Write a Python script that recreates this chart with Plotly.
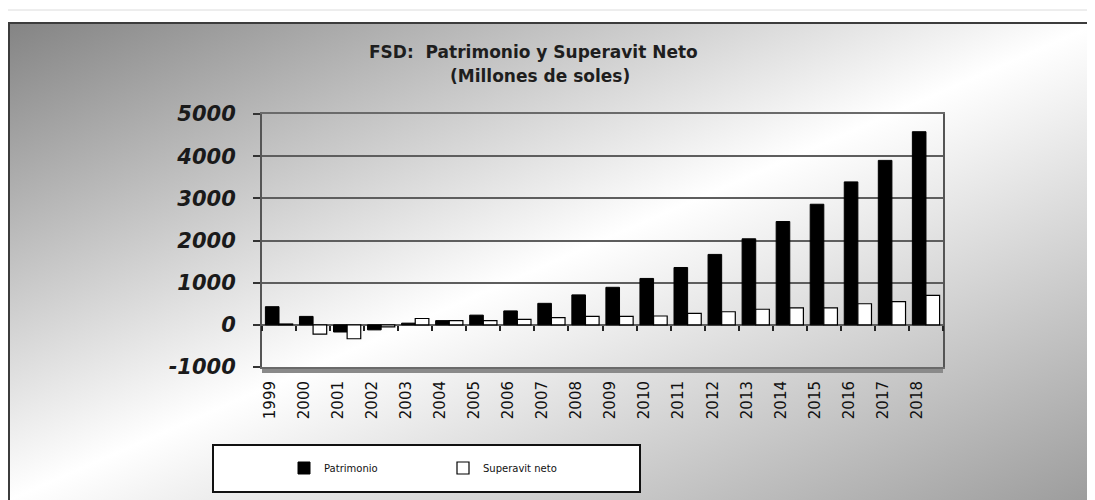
import base64
import plotly.graph_objects as go

# ---- data (millones de soles) ----
years = ["1999", "2000", "2001", "2002", "2003", "2004", "2005", "2006", "2007", "2008",
         "2009", "2010", "2011", "2012", "2013", "2014", "2015", "2016", "2017", "2018"]
patrimonio = [430, 200, -170, -120, 40, 100, 230, 330, 510, 710,
              890, 1100, 1360, 1670, 2040, 2450, 2860, 3390, 3900, 4580]
superavit = [20, -220, -330, -50, 150, 100, 100, 130, 170, 200,
             200, 210, 270, 310, 370, 400, 400, 500, 550, 700]
y_ticks = [-1000, 0, 1000, 2000, 3000, 4000, 5000]

title_line1 = "FSD:\u00a0\u00a0Patrimonio y Superavit Neto"
title_line2 = "(Millones de soles)"
name_pat = "Patrimonio"
name_sup = "Superavit neto"

# ---- geometry helpers (screen pixels -> paper); page body has an 8px margin ----
OFF = 8
W, H = 1095 - OFF, 500 - OFF
ML, MR, MT, MB = 262 - OFF, 152, 114 - OFF, 133
PW = W - ML - MR
PH = H - MT - MB


def sx(x):
    return (x - OFF - ML) / PW


def sy(y):
    return (H - MB - (y - OFF)) / PH


svg = (
    "<svg xmlns='http://www.w3.org/2000/svg' width='1090' height='477' viewBox='0 0 1090 477' "
    "preserveAspectRatio='none'><defs><linearGradient id='g' x1='0' y1='0' x2='1' y2='1'>"
    "<stop offset='0' stop-color='#848484'/><stop offset='0.5' stop-color='#ffffff'/>"
    "<stop offset='1' stop-color='#9c9c9c'/></linearGradient></defs>"
    "<rect width='1090' height='477' fill='url(#g)'/></svg>"
)
bg_src = "data:image/svg+xml;base64," + base64.b64encode(svg.encode()).decode()

FONT = "DejaVu Sans, Verdana, sans-serif"
cat_range = [-0.5, len(years) - 0.5]

fig = go.Figure()
fig.add_trace(go.Bar(
    x=years, y=patrimonio, name=name_pat,
    marker=dict(color="#000000", line=dict(color="#000000", width=1)),
))
fig.add_trace(go.Bar(
    x=years, y=superavit, name=name_sup,
    marker=dict(color="#ffffff", line=dict(color="#000000", width=1.2)),
))
# helper trace for the category axis crossing at zero
fig.add_trace(go.Scatter(
    x=years, y=[None] * len(years), xaxis="x2", yaxis="y",
    showlegend=False, hoverinfo="skip", mode="lines",
))

fig.update_layout(
    width=W, height=H,
    margin=dict(l=ML, r=MR, t=MT, b=MB),
    paper_bgcolor="#ffffff",
    plot_bgcolor="rgba(255,255,255,0.55)",
    barmode="group", bargap=0.2, bargroupgap=0.0,
    font=dict(family=FONT, color="#111111"),
    xaxis=dict(
        type="category", range=cat_range, autorange=False,
        showgrid=False, zeroline=False,
        showline=True, linecolor="#6a6a6a", linewidth=2, mirror=True,
        ticks="", tickangle=-90,
        tickfont=dict(size=15, color="#111111", family=FONT),
        ticklabelstandoff=6, ticklabelshift=-9,
    ),
    xaxis2=dict(
        type="category", overlaying="x", matches="x", anchor="free", position=1 / 6,
        side="bottom", showgrid=False, zeroline=False, showline=False,
        ticks="outside", tickson="boundaries", ticklen=5, tickwidth=1.5, tickcolor="#222222",
        showticklabels=False,
    ),
    yaxis=dict(
        range=[-1000, 5000], tickvals=y_ticks, ticktext=[str(v) for v in y_ticks],
        showgrid=True, gridcolor="#5e5e5e", gridwidth=2,
        zeroline=False,
        showline=True, linecolor="#555555", linewidth=2, mirror=True,
        ticks="outside", ticklen=7, tickwidth=1.5, tickcolor="#333333",
        tickfont=dict(size=21, color="#1a1a1a", family=FONT, weight="bold", style="italic"),
        ticklabelstandoff=13,
    ),
    showlegend=True,
    legend=dict(
        orientation="h", x=sx(284), y=sy(468), xanchor="left", yanchor="middle",
        bgcolor="rgba(0,0,0,0)", borderwidth=0,
        font=dict(size=10, color="#111111", family=FONT),
        entrywidth=114, entrywidthmode="pixels", itemwidth=30,
        traceorder="normal",
    ),
    images=[dict(
        source=bg_src, xref="paper", yref="paper",
        x=sx(9), y=sy(23), sizex=1090 / PW, sizey=477 / PH,
        xanchor="left", yanchor="top", sizing="stretch", layer="below",
    )],
    shapes=[
        # faint outer page border
        dict(type="rect", xref="paper", yref="paper", x0=sx(4), y0=sy(505), x1=sx(1100), y1=sy(10),
             line=dict(color="#dcdcdc", width=1), fillcolor="rgba(0,0,0,0)", layer="below"),
        # chart area frame
        dict(type="rect", xref="paper", yref="paper", x0=sx(9), y0=sy(510), x1=sx(1110), y1=sy(23),
             line=dict(color="#3c3c3c", width=2), fillcolor="rgba(0,0,0,0)", layer="above"),
        # 3D floor band
        dict(type="rect", xref="paper", yref="paper", x0=0, y0=sy(373), x1=1, y1=0,
             line=dict(width=0), fillcolor="#8a8a8a", layer="below"),
        # legend frame
        dict(type="rect", xref="paper", yref="paper", x0=sx(213), y0=sy(492), x1=sx(640), y1=sy(445),
             line=dict(color="#111111", width=2), fillcolor="#ffffff", layer="below"),
    ],
    annotations=[
        dict(text="<b>" + title_line1 + "</b>", xref="paper", yref="paper",
             x=sx(533), y=sy(52), xanchor="center", yanchor="middle", showarrow=False,
             font=dict(size=17, color="#1e1e1e", family=FONT)),
        dict(text="<b>" + title_line2 + "</b>", xref="paper", yref="paper",
             x=sx(540), y=sy(76), xanchor="center", yanchor="middle", showarrow=False,
             font=dict(size=17, color="#1e1e1e", family=FONT)),
    ],
)

fig.write_html("out.html")
